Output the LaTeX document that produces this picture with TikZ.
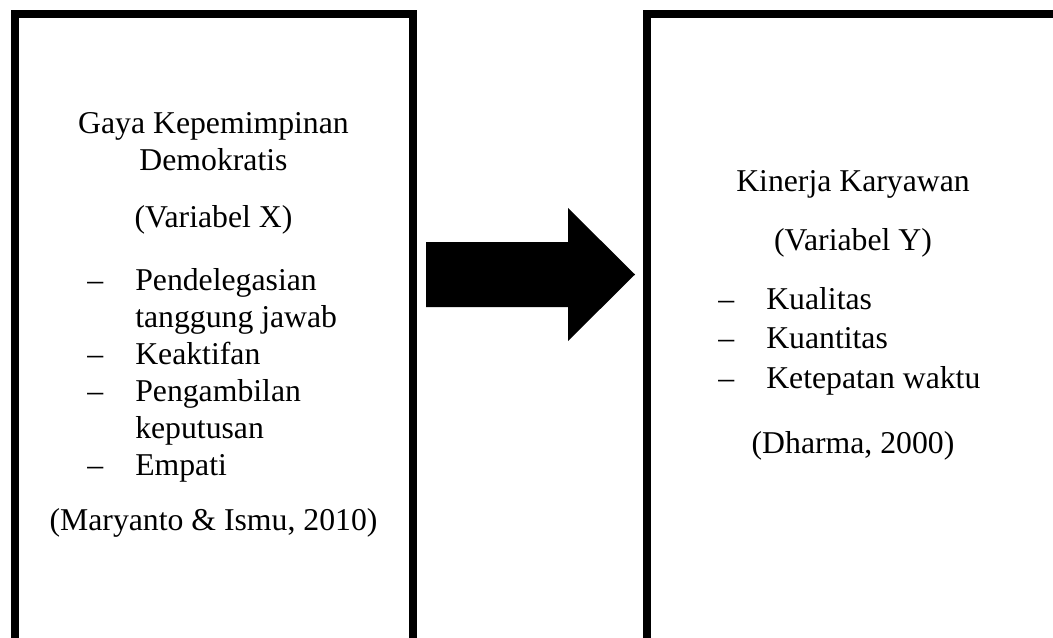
\documentclass[tikz,border=0pt]{standalone}
\usepackage{fontspec}
\setmainfont{Liberation Serif}
\begin{document}
\begin{tikzpicture}[x=0.75pt,y=-0.75pt,
  txt/.style={anchor=base,inner sep=0pt,font=\fontsize{23.8}{28}\selectfont},
  item/.style={txt,anchor=base west},
  frame/.style={line width=6pt}]
\useasboundingbox (0,0) rectangle (1053,638);
\clip (0,0) rectangle (1053,638);
\draw[frame] (14.5,14.5) rectangle (412.5,641.5);
\draw[frame] (647,14.5) rectangle (1060,641.5);
\fill (426,242) -- (568,242) -- (568,208) -- (635,274.5) -- (568,341) -- (568,307) -- (426,307) -- cycle;
\node[txt] (gaya) at (213.5,134) {Gaya Kepemimpinan};
\node[txt] (demo) at (213.5,171) {Demokratis};
\node[txt] (varx) at (213.5,228) {(Variabel X)};
\node[item] (d1) at (87,290) {–};
\node[item] (x1) at (135,290) {Pendelegasian};
\node[item] (x1b) at (135,327) {tanggung jawab};
\node[item] (d2) at (87,364) {–};
\node[item] (x2) at (135,364) {Keaktifan};
\node[item] (d3) at (87,401) {–};
\node[item] (x3) at (135,401) {Pengambilan};
\node[item] (x3b) at (135,438) {keputusan};
\node[item] (d4) at (87,475) {–};
\node[item] (x4) at (135,475) {Empati};
\node[txt] (srcx) at (213.5,530) {(Maryanto \& Ismu, 2010)};
\node[txt] (kin) at (853,191) {Kinerja Karyawan};
\node[txt] (vary) at (853,250) {(Variabel Y)};
\node[item] (e1) at (718,309) {–};
\node[item] (y1) at (766,309) {Kualitas};
\node[item] (e2) at (718,348) {–};
\node[item] (y2) at (766,348) {Kuantitas};
\node[item] (e3) at (718,388) {–};
\node[item] (y3) at (766,388) {Ketepatan waktu};
\node[txt] (srcy) at (853,453) {(Dharma, 2000)};
\end{tikzpicture}
\end{document}
